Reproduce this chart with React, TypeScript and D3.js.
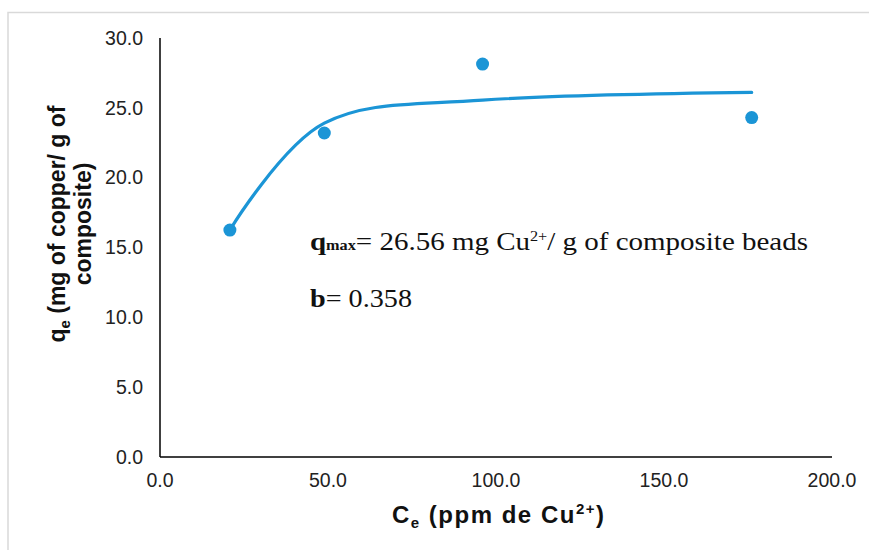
import React from "react";
import * as d3 from "d3";

const ceValues = [20.8, 48.9, 96.0, 176.1];
const qeValues = [16.25, 23.2, 28.13, 24.3];
const fitValues = [16.25, 23.9, 25.55, 26.1];
const xTicks = [0, 50, 100, 150, 200];
const yTicks = [0, 5, 10, 15, 20, 25, 30];

const W = 869;
const H = 550;
const BLUE = "#1b95d6";

export default function App() {
  const x = d3.scaleLinear().domain([0, 200]).range([160, 832]);
  const y = d3.scaleLinear().domain([0, 30]).range([457, 38]);
  const pts = ceValues.map((c, i) => ({ c, q: qeValues[i], f: fitValues[i] }));
  const line = d3
    .line<{ c: number; f: number }>()
    .x((d) => x(d.c))
    .y((d) => y(d.f))
    .curve(d3.curveCatmullRom.alpha(0));
  const sans = "'Liberation Sans', Arial, sans-serif";
  const serif = "'Liberation Serif', 'Times New Roman', serif";
  return (
    <svg
      width={W}
      height={H}
      style={{ position: "absolute", left: 0, top: 0, background: "#fff" }}
    >
      <rect x={8} y={12.5} width={W} height={H} fill="#fff" stroke="#d9d9d9" strokeWidth={1.5} />
      {/* axes */}
      <line x1={x(0)} x2={x(0)} y1={y(30)} y2={y(0)} stroke="#000" strokeWidth={1.5} />
      <line x1={x(0)} x2={x(200)} y1={y(0)} y2={y(0)} stroke="#000" strokeWidth={1.5} />
      {yTicks.map((t) => (
        <text
          key={"y" + t}
          x={143}
          y={y(t)}
          dy="0.35em"
          textAnchor="end"
          fontFamily={sans}
          fontSize={19.5}
          fill="#222"
        >
          {t.toFixed(1)}
        </text>
      ))}
      {xTicks.map((t) => (
        <text
          key={"x" + t}
          x={x(t)}
          y={487}
          textAnchor="middle"
          fontFamily={sans}
          fontSize={19.5}
          fill="#222"
        >
          {t.toFixed(1)}
        </text>
      ))}
      {/* x title */}
      <text
        x={392}
        y={523}
        fontFamily={sans}
        fontSize={24}
        fontWeight="bold"
        fill="#111"
        textLength={212}
        lengthAdjust="spacing"
      >
        C<tspan fontSize={15} dy={5}>e</tspan>
        <tspan dy={-5}> (ppm de Cu</tspan>
        <tspan fontSize={15} dy={-9}>2+</tspan>
        <tspan dy={9}>)</tspan>
      </text>
      {/* y title */}
      <g transform="translate(65,224) rotate(-90)">
        <text x={0} y={0} textAnchor="middle" fontFamily={sans} fontSize={23} fontWeight="bold" fill="#111">
          q<tspan fontSize={15} dy={5}>e</tspan>
          <tspan dy={-5}> (mg of copper/ g of</tspan>
        </text>
        <text x={0} y={26} textAnchor="middle" fontFamily={sans} fontSize={23} fontWeight="bold" fill="#111">
          composite)
        </text>
      </g>
      {/* fit curve */}
      <path d={line(pts) || ""} fill="none" stroke={BLUE} strokeWidth={3.2} strokeLinecap="round" />
      {pts.map((p, i) => (
        <circle key={i} cx={x(p.c)} cy={y(p.q)} r={6.5} fill={BLUE} />
      ))}
      {/* annotations */}
      <text
        x={310}
        y={250}
        fontFamily={serif}
        fontSize={25}
        fill="#111"
        textLength={498}
        lengthAdjust="spacingAndGlyphs"
      >
        <tspan fontWeight="bold">q</tspan>
        <tspan fontWeight="bold" fontSize={14}>max</tspan>
        <tspan>= 26.56 mg Cu</tspan>
        <tspan fontSize={14} dy={-9}>2+</tspan>
        <tspan dy={9}>/ g of composite beads</tspan>
      </text>
      <text
        x={310}
        y={307}
        fontFamily={serif}
        fontSize={25}
        fill="#111"
        textLength={102}
        lengthAdjust="spacingAndGlyphs"
      >
        <tspan fontWeight="bold">b</tspan>
        <tspan>= 0.358</tspan>
      </text>
    </svg>
  );
}
